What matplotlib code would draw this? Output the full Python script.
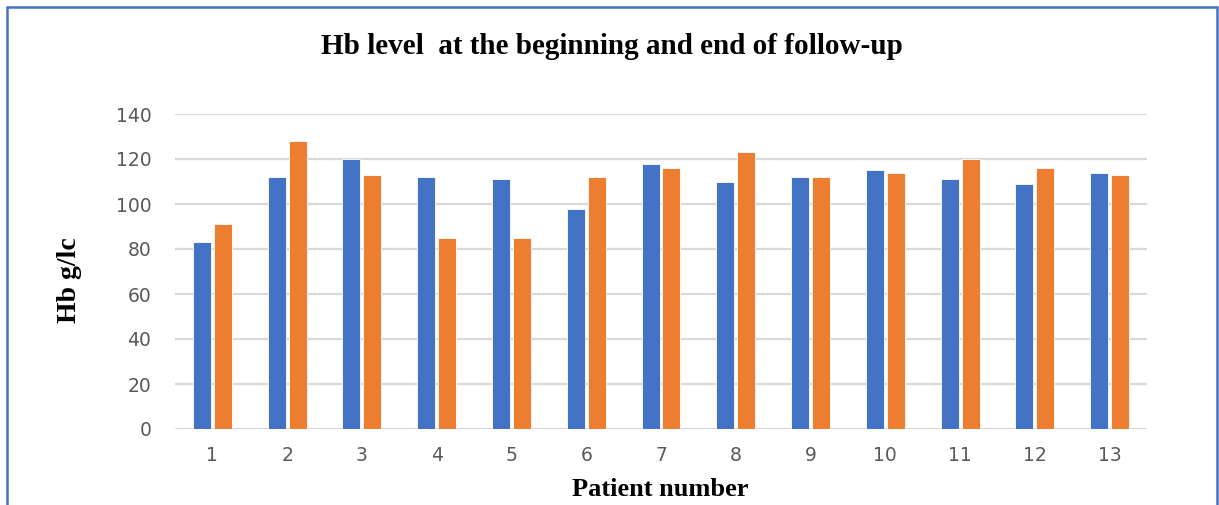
import matplotlib
matplotlib.use("Agg")
import matplotlib.pyplot as plt
import numpy as np
from matplotlib.patches import Rectangle

# Haemoglobin per patient at start and end of follow-up
patients = ["1", "2", "3", "4", "5", "6", "7", "8", "9", "10", "11", "12", "13"]
hb_start = [83, 112, 120, 112, 111, 98, 118, 110, 112, 115, 111, 109, 114]
hb_end = [91, 128, 113, 85, 85, 112, 116, 123, 112, 114, 120, 116, 113]
y_ticks = [0, 20, 40, 60, 80, 100, 120, 140]

BLUE = "#4472C4"
ORANGE = "#ED7D31"
GRID = "#D9D9D9"
TICK = "#595959"
SERIF = ["Liberation Serif", "DejaVu Serif"]

W, H = 1219, 505
fig = plt.figure(figsize=(W / 100, H / 100), dpi=100)
fig.patch.set_facecolor("white")

# plot area in pixel coordinates
left, right, top, bottom = 175, 1147, 114, 429
ax = fig.add_axes([left / W, 1 - bottom / H, (right - left) / W, (bottom - top) / H])

x = np.arange(len(patients))
bw = 0.24
gap = 0.04
ax.bar(x - (bw + gap) / 2, hb_start, width=bw, color=BLUE,
       edgecolor="white", linewidth=0.6, zorder=3)
ax.bar(x + (bw + gap) / 2, hb_end, width=bw, color=ORANGE,
       edgecolor="white", linewidth=0.6, zorder=3)

ax.set_xlim(-0.5, len(patients) - 0.5)
ax.set_ylim(0, 140)
ax.set_yticks(y_ticks)
ax.set_xticks(x)
ax.set_xticklabels(patients)
ax.yaxis.grid(True, color=GRID, linewidth=1.6, zorder=0)
ax.set_axisbelow(True)
for s in ax.spines.values():
    s.set_visible(False)
ax.tick_params(axis="both", length=0, labelsize=13.5, labelcolor=TICK)
ax.tick_params(axis="y", pad=17)
ax.tick_params(axis="x", pad=12)

# chart texts
fig.text(612 / W, 1 - 46 / H, "Hb level  at the beginning and end of follow-up",
         ha="center", va="center", fontsize=21, fontweight="bold",
         family=SERIF, color="black")
fig.text(69 / W, 1 - 280 / H, "Hb g/lc", ha="center", va="center",
         rotation=90, fontsize=20, fontweight="bold", family=SERIF, color="black")
fig.text(660 / W, 1 - 489 / H, "Patient number", ha="center", va="center",
         fontsize=19, fontweight="bold", family=SERIF, color="black")

# blue frame around the chart
fig.patches.append(Rectangle((7 / W, -0.05), (1217 - 7) / W, 1 - 7 / H + 0.05,
                             transform=fig.transFigure, fill=False,
                             edgecolor=BLUE, linewidth=1.8))

fig.savefig("out.png", dpi=100)
